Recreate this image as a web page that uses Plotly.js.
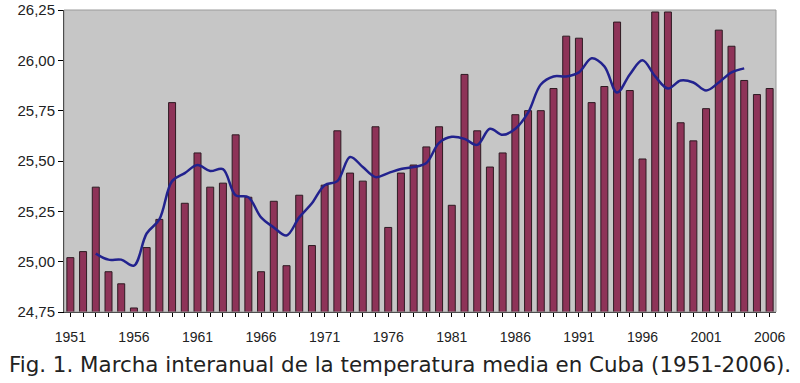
<!DOCTYPE html>
<html>
<head>
<meta charset="utf-8">
<script src="https://cdn.plot.ly/plotly-3.0.1.min.js"></script>
<style>html,body{margin:0;padding:0;background:#fff;}#chart{width:800px;height:383px;}</style>
</head>
<body>
<div id="chart"></div>
<script>
const years = [1951,1952,1953,1954,1955,1956,1957,1958,1959,1960,1961,1962,1963,1964,1965,1966,1967,1968,1969,1970,1971,1972,1973,1974,1975,1976,1977,1978,1979,1980,1981,1982,1983,1984,1985,1986,1987,1988,1989,1990,1991,1992,1993,1994,1995,1996,1997,1998,1999,2000,2001,2002,2003,2004,2005,2006];
const temps = [25.02,25.05,25.37,24.95,24.89,24.77,25.07,25.21,25.79,25.29,25.54,25.37,25.39,25.63,25.32,24.95,25.30,24.98,25.33,25.08,25.38,25.65,25.44,25.40,25.67,25.17,25.44,25.48,25.57,25.67,25.28,25.93,25.65,25.47,25.54,25.73,25.75,25.75,25.86,26.12,26.11,25.79,25.87,26.19,25.85,25.51,26.24,26.24,25.69,25.60,25.76,26.15,26.07,25.90,25.83,25.86];
const trendYears = [1953,1954,1955,1956,1957,1958,1959,1960,1961,1962,1963,1964,1965,1966,1967,1968,1969,1970,1971,1972,1973,1974,1975,1976,1977,1978,1979,1980,1981,1982,1983,1984,1985,1986,1987,1988,1989,1990,1991,1992,1993,1994,1995,1996,1997,1998,1999,2000,2001,2002,2003,2004];
const trendValues = [25.04,25.01,25.01,24.98,25.14,25.21,25.40,25.44,25.48,25.45,25.46,25.33,25.32,25.22,25.17,25.13,25.22,25.29,25.38,25.40,25.52,25.47,25.42,25.44,25.46,25.47,25.49,25.59,25.62,25.61,25.58,25.66,25.63,25.66,25.74,25.88,25.92,25.92,25.94,26.01,25.97,25.84,25.93,26.00,25.92,25.86,25.90,25.89,25.85,25.89,25.94,25.96];
const xTickVals = [1951,1956,1961,1966,1971,1976,1981,1986,1991,1996,2001,2006];
const xTickLabels = ['1951','1956','1961','1966','1971','1976','1981','1986','1991','1996','2001','2006'];
const yTickVals = [24.75,25.00,25.25,25.50,25.75,26.00,26.25];
const yTickLabels = ['24,75','25,00','25,25','25,50','25,75','26,00','26,25'];
const caption = 'Fig. 1. Marcha interanual de la temperatura media en Cuba (1951-2006).';

const data = [
  {type:'bar', x:years, y:temps, base:0,
   marker:{color:'#8e3358', line:{color:'#2e1a22', width:1}},
   hoverinfo:'x+y'},
  {type:'scatter', mode:'lines', x:trendYears, y:trendValues,
   line:{color:'#22228e', width:2.5, shape:'spline', smoothing:1}}
];

const layout = {
  width:800, height:383,
  margin:{l:64, r:24, t:10, b:71},
  paper_bgcolor:'#ffffff', plot_bgcolor:'#c6c6c6',
  showlegend:false, bargap:0.45,
  font:{family:'Liberation Sans, Arial, sans-serif', color:'#222', size:14},
  xaxis:{range:[1950.5,2006.5], tickmode:'array', tickvals:xTickVals, ticktext:xTickLabels,
    ticks:'outside', ticklen:4, tickcolor:'#000', showline:true, linecolor:'#000', linewidth:1,
    ticklabelstandoff:8,
    showgrid:false, zeroline:false, tickfont:{size:14, family:'Liberation Sans, Arial, sans-serif', color:'#222'},
    minor:{dtick:1, tick0:1951, ticks:'outside', ticklen:4, tickcolor:'#000', showgrid:false}},
  yaxis:{range:[24.75,26.25], tickmode:'array', tickvals:yTickVals, ticktext:yTickLabels,
    ticks:'outside', ticklen:5, tickcolor:'#000', showline:true, linecolor:'#000', linewidth:1,
    showgrid:false, zeroline:false, tickfont:{size:15, family:'Liberation Sans, Arial, sans-serif', color:'#222'}},
  shapes:[{type:'rect', xref:'paper', yref:'paper', x0:0, x1:1, y0:0, y1:1, line:{color:'#9a9a9a', width:1}, fillcolor:'rgba(0,0,0,0)'}],
  annotations:[{text:caption, xref:'paper', yref:'paper', x:0.472, y:-0.126, xanchor:'center', yanchor:'top',
    showarrow:false, font:{family:'DejaVu Sans, Verdana, sans-serif', size:21.4, color:'#222'}}]
};

Plotly.newPlot('chart', data, layout, {displayModeBar:false, staticPlot:true});
</script>
</body>
</html>
